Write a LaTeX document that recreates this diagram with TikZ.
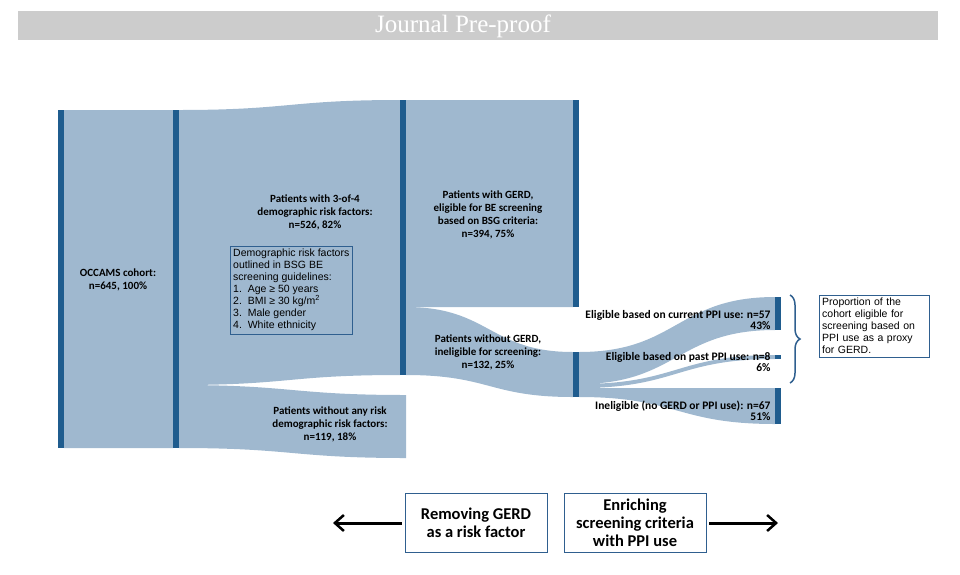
\documentclass[tikz,border=0pt]{standalone}
\usepackage{fontspec}
\setmainfont{Liberation Serif}
\setsansfont{Carlito}
\newfontfamily\arialfont{Liberation Sans}
\usetikzlibrary{arrows.meta,decorations.pathreplacing}
\definecolor{flowblue}{HTML}{9FB8CF}
\definecolor{barblue}{HTML}{1F5C8E}
\definecolor{boxblue}{HTML}{2F5F8F}
% band between two stacks: x1, top1, bot1, x2, top2, bot2
\newcommand{\band}[6]{%
  \fill[flowblue] (#1,#2) .. controls ({(#1+#4)/2},#2) and ({(#1+#4)/2},#5) .. (#4,#5)
    -- (#4,#6) .. controls ({(#1+#4)/2},#6) and ({(#1+#4)/2},#3) .. (#1,#3) -- cycle;}
\begin{document}
\begin{tikzpicture}[x=1pt,y=-1pt,
    bar/.style={fill=barblue},
    lab/.style={font=\sffamily\bfseries\fontsize{11}{13}\selectfont,align=center},
    rlab/.style={font=\sffamily\bfseries\fontsize{11.5}{10.5}\selectfont,align=right,anchor=east},
    infobox/.style={draw=boxblue,fill=flowblue,font=\arialfont\fontsize{10.5}{12}\selectfont,align=left,inner sep=3pt},
    bigbox/.style={draw=boxblue,thick,fill=white,font=\sffamily\bfseries\fontsize{16.5}{18}\selectfont,align=center,minimum width=142pt,minimum height=59pt},
    bigarrow/.style={-{Straight Barb[length=9pt,width=16pt,line width=2.5pt]},line width=3pt}]
  \useasboundingbox (0,0) rectangle (960,574);
  % header
  \fill[black!20] (18,11) rectangle (938,40);
  \node[font=\fontsize{25}{25}\selectfont,text=white] (hdr) at (463,26) {Journal Pre-proof};
  % flows
  \band{64}{110}{448}{173}{110}{448}
  \band{179}{110}{385}{400}{100}{375}
  \band{179}{385}{448}{406}{395}{458}
  \band{406}{100}{307}{573}{100}{307}
  \band{406}{307}{375}{573}{352}{397}
  \band{579}{352}{384}{775}{297}{330}
  \band{579}{384}{388}{775}{355}{359}
  \band{579}{388}{397}{775}{388}{424}
  \fill[flowblue] (579,352) rectangle (600,397);
  % bars
  \fill[bar] (58,110) rectangle (64,448);
  \fill[bar] (173,110) rectangle (179,448);
  \fill[bar] (400,100) rectangle (406,375);
  \fill[bar] (573,100) rectangle (579,307);
  \fill[bar] (573,352) rectangle (579,397);
  \fill[bar] (775,297) rectangle (781,330);
  \fill[bar] (775,355) rectangle (781,359);
  \fill[bar] (775,388) rectangle (781,424);
  % labels
  \node[lab] (cohort) at (118,280) {OCCAMS cohort:\\n=645, 100\%};
  \node[lab] (risk) at (315,212) {Patients with 3-of-4\\demographic risk factors:\\n=526, 82\%};
  \node[lab] (norisk) at (330,424) {Patients without any risk\\demographic risk factors:\\n=119, 18\%};
  \node[lab] (gerd) at (488,215) {Patients with GERD,\\eligible for BE screening\\based on BSG criteria:\\n=394, 75\%};
  \node[lab] (nogerd) at (488,352) {Patients without GERD,\\ineligible for screening:\\n=132, 25\%};
  \node[rlab] (cur) at (774,320) {Eligible based on current PPI use: n=57\\43\%};
  \node[rlab] (past) at (774,362) {Eligible based on past PPI use: n=8\\6\%};
  \node[rlab] (inel) at (774,411) {Ineligible (no GERD or PPI use): n=67\\51\%};
  \node[infobox,anchor=north west] (factors) at (230,246) {Demographic risk factors\\outlined in BSG BE\\screening guidelines:\\1.\ \ Age ≥ 50 years\\2.\ \ BMI ≥ 30 kg/m\textsuperscript{2}\\3.\ \ Male gender\\4.\ \ White ethnicity};
  \node[infobox,fill=white,anchor=north west,text width=104pt] (proxy) at (819,295) {Proportion of the\\cohort eligible for\\screening based on\\PPI use as a proxy\\for GERD.};
  \coordinate (bt) at (790,295);
  \coordinate (bb) at (790,383);
  \draw[boxblue,line width=1.5pt,decorate,decoration={brace,amplitude=10pt}] (bt) -- (bb);
  % bottom boxes and arrows
  \node[bigbox] (remove) at (476,523) {Removing GERD\\as a risk factor};
  \node[bigbox] (enrich) at (635,523) {Enriching\\screening criteria\\with PPI use};
  \coordinate (leftend) at (333,523);
  \coordinate (rightend) at (778,523);
  \draw[bigarrow] (remove.west) ++(-3,0) -- (leftend);
  \draw[bigarrow] (enrich.east) ++(3,0) -- (rightend);
\end{tikzpicture}
\end{document}
